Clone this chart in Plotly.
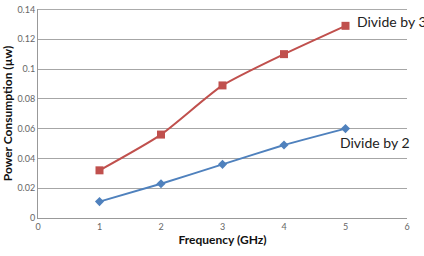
import plotly.graph_objects as go

freq = [1, 2, 3, 4, 5]
div3 = [0.032, 0.056, 0.089, 0.110, 0.129]
div2 = [0.011, 0.023, 0.036, 0.049, 0.060]
x_ticks = [0, 1, 2, 3, 4, 5, 6]
y_ticks = [0, 0.02, 0.04, 0.06, 0.08, 0.1, 0.12, 0.14]
y_labels = ["0", "0.02", "0.04", "0.06", "0.08", "0.1", "0.12", "0.14"]

fig = go.Figure()
fig.add_trace(go.Scatter(x=freq, y=div3, mode="lines+markers",
                         line=dict(color="#C0504D", width=2, shape="spline", smoothing=0.6),
                         marker=dict(symbol="square", size=8, color="#C0504D"),
                         name="Divide by 3", showlegend=False))
fig.add_trace(go.Scatter(x=freq, y=div2, mode="lines+markers",
                         line=dict(color="#4F81BD", width=2, shape="spline", smoothing=0.4),
                         marker=dict(symbol="diamond", size=7, color="#4F81BD"),
                         name="Divide by 2", showlegend=False))

fig.add_annotation(x=freq[-1], y=div3[-1], text="Divide by 3", showarrow=False,
                   xanchor="left", yanchor="middle", xshift=9, yshift=4,
                   font=dict(family="Lato", size=14, color="#222"))
fig.add_annotation(x=freq[-1], y=div2[-1], text="Divide by 2", showarrow=False,
                   xanchor="left", yanchor="top", xshift=-8, yshift=-3,
                   font=dict(family="Lato", size=14, color="#222"))

# top gridline (hidden by plotly at the plot edge)
fig.add_shape(type="line", xref="paper", yref="y", x0=0, x1=1,
              y0=y_ticks[-1], y1=y_ticks[-1], line=dict(color="#A6A6A6", width=1), layer="below")

fig.update_layout(
    width=424, height=256,
    margin=dict(l=38, r=17, t=4, b=38),
    paper_bgcolor="white", plot_bgcolor="white",
    font=dict(family="Lato", size=9, color="#666"),
    xaxis=dict(range=[0, 6], tickvals=x_ticks, showgrid=False, zeroline=False,
               showline=True, linecolor="#999", linewidth=1, ticks="",
               title=dict(text="<b>Frequency (GHz)</b>", font=dict(size=12, color="#111"), standoff=4)),
    yaxis=dict(range=[0, 0.1403], tickvals=y_ticks, ticktext=y_labels,
               ticklabeloverflow="allow",
               showgrid=True, gridcolor="#A6A6A6", gridwidth=1, zeroline=False,
               showline=True, linecolor="#999", linewidth=1, ticks="",
               title=dict(text="<b>Power Consumption (µw)</b>", font=dict(size=12, color="#111"), standoff=4)),
)

fig.write_html("out.html")
